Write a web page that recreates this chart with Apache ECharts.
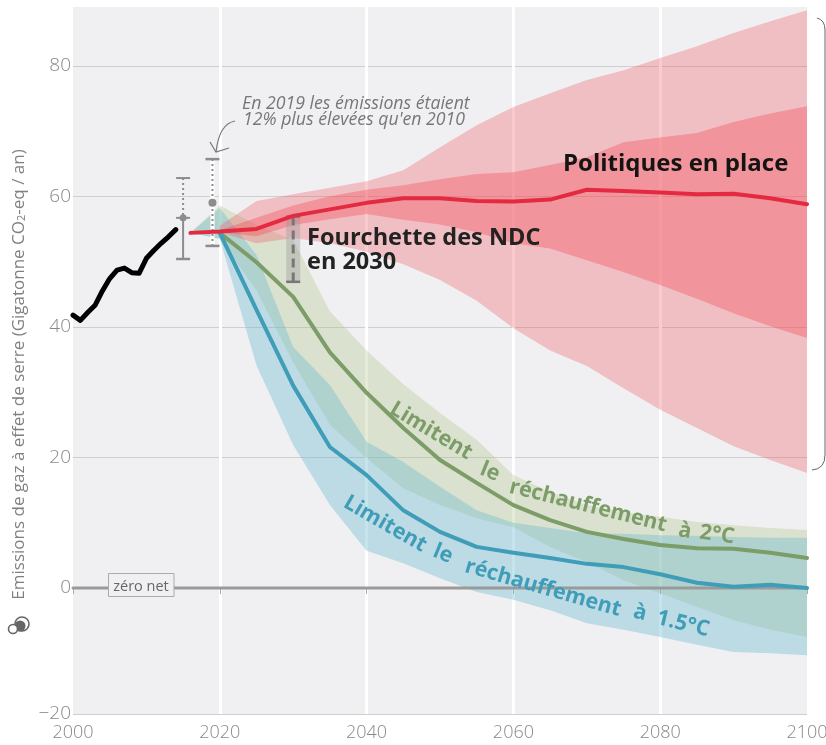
<!DOCTYPE html>
<html>
<head>
<meta charset="utf-8">
<script src="https://cdn.jsdelivr.net/npm/echarts@6/dist/echarts.min.js"></script>
<style>
  html, body { margin: 0; padding: 0; background: #fff; }
  #main { width: 826px; height: 745px; }
</style>
</head>
<body>
<div id="main"></div>
<script>
// Valeurs (GtCO2-eq / an)
const histYears = [2000, 2001, 2002, 2003, 2004, 2005, 2006, 2007, 2008, 2009, 2010, 2011, 2012, 2013, 2014];
const histValues = [41.8, 41, 42.2, 43.3, 45.5, 47.4, 48.7, 49, 48.3, 48.2, 50.5, 51.7, 52.8, 53.8, 54.9];

const years = [2020, 2025, 2030, 2035, 2040, 2045, 2050, 2055, 2060, 2065, 2070, 2075, 2080, 2085, 2090, 2095, 2100];
const scenarioYears = [2016].concat(years);

const policyStart = [2016, 54.4];
const policyMedian = [54.6, 55, 57, 58, 59, 59.7, 59.7, 59.3, 59.2, 59.5, 61, 60.8, 60.6, 60.3, 60.4, 59.7, 58.8];
const policyOuterHigh = [55.5, 59.3, 60.3, 61.3, 62.3, 64, 67.5, 70.9, 73.7, 75.8, 77.8, 79.3, 81.2, 83, 85, 86.8, 88.5];
const policyOuterLow = [54.5, 52.8, 53.6, 52.8, 51.5, 49.6, 47.2, 44, 39.8, 36.4, 34, 30.6, 27.3, 24.5, 21.7, 19.6, 17.6];
const policyInnerHigh = [54.8, 56.7, 58.6, 60, 61, 61.7, 62.6, 63.4, 63.7, 64.8, 66, 68.3, 69, 69.7, 71.4, 72.7, 73.8];
const policyInnerLow = [54.5, 53.9, 55.6, 56.5, 57.3, 56.4, 55.7, 54.5, 52.8, 52, 50.2, 48.4, 46.4, 44.3, 42.1, 40.1, 38.3];

const twoMedian = [54.4, 49.9, 44.6, 36.1, 29.9, 24.5, 19.6, 16.1, 12.7, 10.4, 8.6, 7.5, 6.6, 6.1, 6, 5.4, 4.6];
const twoHigh = [54.4, 58.6, 55.6, 53.3, 42.4, 36.4, 31.2, 26.8, 22.7, 17.3, 14.7, 12.7, 11.6, 10.9, 10.1, 9.6, 9.2, 8.9];
const twoLow = [54.4, 53.5, 45.6, 34.6, 25, 19.9, 15.3, 12.7, 10.7, 9.3, 6.3, 4, 1.2, -0.8, -2.9, -4.9, -6.4, -7.5];

const onePointFiveMedian = [54.4, 42.6, 31, 21.6, 17.3, 11.9, 8.6, 6.3, 5.4, 4.6, 3.7, 3.2, 2.1, 0.8, 0.2, 0.5, 0];
const onePointFiveHigh = [54.4, 58.2, 51, 36.9, 31.1, 22.4, 19.3, 15.5, 11.9, 10, 9.2, 8.4, 8.3, 8.1, 8, 7.8, 7.7, 7.7];
const onePointFiveLow = [54.4, 53.5, 34.1, 21.9, 12.7, 5.7, 3.8, 1.5, -0.6, -1.8, -3.4, -5.4, -6.4, -7.5, -8.7, -9.8, -10, -10.3];

// [année, bas, central, haut]
const range2015 = [2015, 50.4, 56.7, 62.8];
const range2019 = [2019, 52.4, 59, 65.7];
const ndcRange = [2030, 46.9, 56.9];

const xTicks = [2000, 2020, 2040, 2060, 2080, 2100];
const yBottom = -19.3;
const yTicks = [yBottom, 0, 20, 40, 60, 80];
const yTickLabels = ['−20', '0', '20', '40', '60', '80'];

const font = '"Open Sans", sans-serif';
const greyBar = '#8c8c8c';

const zip = (xs, ys) => xs.map((x, i) => [x, ys[i]]);

const band = (xs, low, high, fill) => {
  const rows = xs.map((x, i) => [x, low[i], high[i]]);
  return {
    type: 'custom',
    silent: true,
    data: rows,
    encode: { x: 0, y: [1, 2] },
    renderItem: (params, api) => {
      if (params.dataIndex !== 0) return;
      const up = rows.map(r => api.coord([r[0], r[2]]));
      const down = rows.map(r => api.coord([r[0], r[1]])).reverse();
      return { type: 'polygon', shape: { points: up.concat(down) }, style: { fill } };
    }
  };
};

const line = (data, color, width, z) => ({
  type: 'line',
  silent: true,
  data,
  z,
  symbol: 'none',
  lineStyle: { color, width, cap: 'round', join: 'round' }
});

const seg = (a, b, stroke, width, dash) => ({
  type: 'line',
  shape: { x1: a[0], y1: a[1], x2: b[0], y2: b[1] },
  style: { stroke, lineWidth: width, lineDash: dash || null }
});

// barres de fourchette 2015 et 2019, avec le point central
const rangeBars = {
  type: 'custom',
  silent: true,
  z: 6,
  data: [range2015, range2019],
  encode: { x: 0, y: [1, 2, 3] },
  renderItem: (params, api) => {
    const row = params.dataIndex === 0 ? range2015 : range2019;
    const lo = api.coord([row[0], row[1]]);
    const mid = api.coord([row[0], row[2]]);
    const hi = api.coord([row[0], row[3]]);
    const cap = 7;
    const children = [];
    if (params.dataIndex === 0) {
      children.push(seg(hi, mid, greyBar, 2, [2, 3]));
      children.push(seg(mid, lo, greyBar, 2));
      children.push(seg([mid[0] - cap, mid[1]], [mid[0] + cap, mid[1]], greyBar, 2));
      children.push(seg([hi[0] - cap, hi[1]], [hi[0] + cap, hi[1]], greyBar, 2));
      children.push({ type: 'circle', shape: { cx: mid[0], cy: mid[1], r: 3.5 }, style: { fill: greyBar } });
    } else {
      children.push(seg(hi, lo, '#fff', 4));
      children.push(seg(hi, lo, greyBar, 2, [2, 3]));
      children.push(seg([hi[0] - cap, hi[1]], [hi[0] + cap, hi[1]], greyBar, 2.5));
      children.push({ type: 'circle', shape: { cx: mid[0], cy: mid[1], r: 4 }, style: { fill: greyBar } });
    }
    children.push(seg([lo[0] - cap, lo[1]], [lo[0] + cap, lo[1]], greyBar, 2.5));
    return { type: 'group', children };
  }
};

const ndcBar = {
  type: 'custom',
  silent: true,
  z: 6,
  data: [ndcRange],
  encode: { x: 0, y: [1, 2] },
  renderItem: (params, api) => {
    const lo = api.coord([ndcRange[0], ndcRange[1]]);
    const hi = api.coord([ndcRange[0], ndcRange[2]]);
    const cap = 7;
    return {
      type: 'group',
      children: [
        { type: 'rect', shape: { x: lo[0] - cap, y: hi[1], width: cap * 2, height: lo[1] - hi[1] }, style: { fill: 'rgba(150,150,150,0.35)' } },
        seg(hi, lo, '#777', 3, [9, 5]),
        seg([hi[0] - cap, hi[1]], [hi[0] + cap, hi[1]], '#777', 2.5),
        seg([lo[0] - cap, lo[1]], [lo[0] + cap, lo[1]], '#777', 2.5)
      ]
    };
  }
};

const label = (text, x, y, size, color, style) => ({
  type: 'text',
  x,
  y,
  z: 20,
  silent: true,
  style: { text, fill: color, font: (style || 'bold') + ' ' + size + 'px ' + font, textVerticalAlign: 'middle' }
});

// mots posés le long des courbes (deg : pente vers le bas)
const curved = (text, x, y, deg, color) => ({
  type: 'text',
  x,
  y,
  rotation: -deg * Math.PI / 180,
  z: 20,
  silent: true,
  style: { text, fill: color, font: 'bold 21.5px ' + font, textAlign: 'center', textVerticalAlign: 'middle' }
});

const stroke = (type, shape, color, width) => ({
  type,
  shape,
  z: 20,
  silent: true,
  style: { stroke: color, fill: null, lineWidth: width }
});

const green = '#7c9c68';
const blue = '#3f9db8';

const graphics = [
  label('Politiques en place', 563, 164, 24, '#141414'),
  label('Fourchette des NDC', 307, 238, 23.5, '#222'),
  label('en 2030', 307, 262, 23.5, '#222'),
  label('En 2019 les émissions étaient', 242, 104, 17.7, '#777', 'italic'),
  label('12% plus élevées qu\'en 2010', 243, 120, 17.7, '#777', 'italic'),

  curved('Limitent', 431, 431, 31, green),
  curved('le', 490, 472, 22, green),
  curved('réchauffement', 588, 506, 14, green),
  curved('à', 685, 531, 10, green),
  curved('2°C', 717, 535, 8, green),

  curved('Limitent', 385, 524, 30, blue),
  curved('le', 443, 554, 22, blue),
  curved('réchauffement', 543, 588, 16, blue),
  curved('à', 640, 613, 14, blue),
  curved('1.5°C', 683, 624, 14, blue),

  // flèche vers 2019
  stroke('bezierCurve', { x1: 235, y1: 121, cpx1: 224, cpy1: 123, cpx2: 218, cpy2: 134, x2: 216, y2: 152 }, '#777', 1.2),
  stroke('polyline', { points: [[210, 142], [216, 152], [229, 148]] }, '#777', 1.2),

  // étiquette zéro net
  { type: 'rect', z: 15, silent: true, shape: { x: 108.5, y: 573.5, width: 65.5, height: 23 },
    style: { fill: '#f0f0f3', stroke: '#aaa', lineWidth: 1 } },
  { type: 'text', x: 141, y: 587, z: 16, silent: true,
    style: { text: 'zéro net', fill: '#666', font: '14.5px ' + font, textAlign: 'center', textVerticalAlign: 'middle' } },

  // accolade à droite
  stroke('bezierCurve', { x1: 817, y1: 18, cpx1: 825, cpy1: 20, x2: 825, y2: 30 }, '#666', 1),
  stroke('line', { x1: 825, y1: 30, x2: 825, y2: 455 }, '#666', 1),
  stroke('bezierCurve', { x1: 825, y1: 455, cpx1: 825, cpy1: 469, x2: 812, y2: 470 }, '#666', 1),

  // pictogramme
  { type: 'circle', z: 20, silent: true, shape: { cx: 22, cy: 624, r: 7 }, style: { fill: '#fff', stroke: '#666', lineWidth: 1.6 } },
  { type: 'circle', z: 20, silent: true, shape: { cx: 20, cy: 626, r: 5.5 }, style: { fill: '#666' } },
  { type: 'circle', z: 20, silent: true, shape: { cx: 13, cy: 629, r: 4.5 }, style: { fill: '#fff', stroke: '#666', lineWidth: 1.6 } }
];

const chart = echarts.init(document.getElementById('main'));

chart.setOption({
  animation: false,
  backgroundColor: '#fff',
  grid: { left: 73, right: 19, top: 7, bottom: 31, outerBoundsMode: 'none', show: true, backgroundColor: '#f0f0f3', borderWidth: 0 },
  xAxis: {
    type: 'value',
    min: 2000,
    max: 2100,
    interval: 20,
    axisLine: { lineStyle: { color: '#c8c8c8', width: 1.5 } },
    axisTick: { show: true, length: 6, lineStyle: { color: '#aaa' } },
    axisLabel: { color: '#888', fontSize: 18, fontFamily: font, fontWeight: 300, margin: 10, formatter: v => String(v), customValues: xTicks },
    splitLine: { show: true, showMinLine: false, showMaxLine: false, lineStyle: { color: '#fff', width: 3 } }
  },
  yAxis: {
    type: 'value',
    min: yBottom,
    max: 89,
    name: 'Emissions de gaz à effet de serre (Gigatonne CO{s|2}-eq / an)',
    nameLocation: 'middle',
    nameGap: 43,
    nameRotate: 90,
    nameTextStyle: {
      color: '#808080',
      fontFamily: font,
      fontSize: 17,
      padding: [0, 28, 0, 0],
      rich: { s: { fontSize: 11, fontFamily: font, color: '#808080', verticalAlign: 'bottom', padding: [6, 0, 0, 0] } }
    },
    axisLine: { show: false },
    axisTick: { show: false, customValues: yTicks },
    axisLabel: {
      color: '#888',
      fontSize: 19,
      fontFamily: font,
      fontWeight: 300,
      margin: 2,
      customValues: yTicks,
      formatter: v => yTickLabels[yTicks.indexOf(v)]
    },
    splitLine: { show: true, lineStyle: { color: '#cfcfcf', width: 1 } }
  },
  series: [
    band(scenarioYears, twoLow, twoHigh, 'rgba(170,193,127,0.32)'),
    band(scenarioYears, onePointFiveLow, onePointFiveHigh, 'rgba(110,187,207,0.4)'),
    band(years, policyOuterLow, policyOuterHigh, 'rgba(243,80,90,0.3)'),
    band(years, policyInnerLow, policyInnerHigh, 'rgba(243,80,90,0.39)'),
    line([[2000, 0], [2100, 0]], '#9a9a9a', 3, 3),
    rangeBars,
    ndcBar,
    line(zip(years, twoMedian), green, 4, 4),
    line(zip(years, onePointFiveMedian), blue, 4, 4),
    line([policyStart].concat(zip(years, policyMedian)), '#e32a40', 4, 7),
    line(zip(histYears, histValues), '#000', 5, 7)
  ],
  graphic: graphics
});
</script>
</body>
</html>
